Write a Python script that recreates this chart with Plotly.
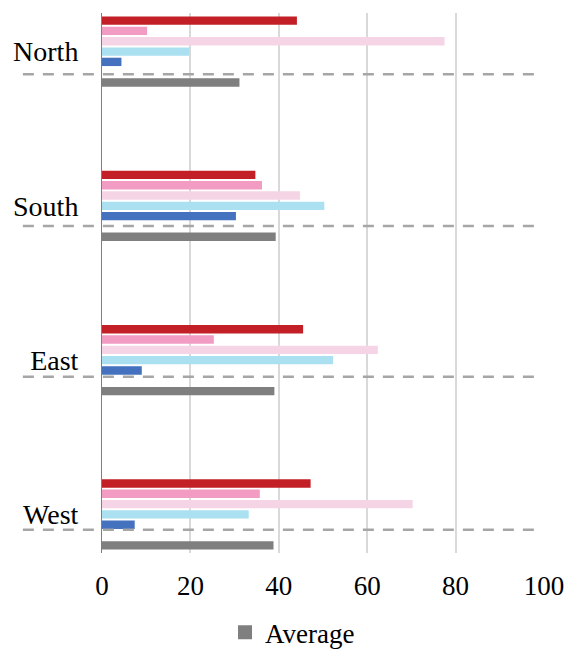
import plotly.graph_objects as go

# Regions shown on the category axis (top to bottom)
regions = ["North", "South", "East", "West"]

# Five series per region plus the regional average
series_names = ["Series 1", "Series 2", "Series 3", "Series 4", "Series 5"]
series_values = [
    [44.1, 34.7, 45.5, 47.2],
    [10.2, 36.2, 25.3, 35.7],
    [77.5, 44.8, 62.4, 70.3],
    [19.7, 50.3, 52.3, 33.2],
    [4.4, 30.3, 9.0, 7.4],
]
series_colors = ["#C21F27", "#F29BC3", "#F5D5E5", "#ABE0F0", "#4472BE"]

average_values = [31.1, 39.3, 39.0, 38.8]
average_color = "#7F7F7F"

# Separator line positions on the category axis (one below each region's series)
separator_pos = [0.147, 1.130, 2.108, 3.099]

x_ticks = [0, 20, 40, 60, 80, 100]

FONT = "Liberation Serif"

fig = go.Figure()

for name, vals, col in zip(series_names, series_values, series_colors):
    fig.add_trace(go.Bar(
        y=regions, x=vals, name=name, orientation="h",
        marker=dict(color=col, line=dict(width=0)),
        showlegend=False,
    ))

# empty slot between the series and the average bar
fig.add_trace(go.Bar(
    y=regions, x=[0] * len(regions), orientation="h",
    marker=dict(color="rgba(0,0,0,0)", line=dict(width=0)),
    showlegend=False, hoverinfo="skip",
))

fig.add_trace(go.Bar(
    y=regions, x=average_values, name="Average", orientation="h",
    marker=dict(color=average_color, line=dict(width=0)),
    showlegend=False, legendgroup="avg",
))

# legend key for the average series (larger square swatch)
fig.add_trace(go.Scatter(
    x=[None], y=[None], mode="markers", name="Average",
    marker=dict(symbol="square", size=14, color=average_color),
    legendgroup="avg", showlegend=True, hoverinfo="skip",
))

for pos in separator_pos:
    fig.add_shape(
        type="line", xref="paper", yref="y",
        x0=-0.179, x1=0.995, y0=pos, y1=pos,
        line=dict(color="#A6A6A6", width=2.5, dash="11px,9px"),
        layer="above",
    )

fig.update_layout(
    width=568, height=653,
    margin=dict(l=102, r=24, t=13, b=100, autoexpand=False),
    paper_bgcolor="white", plot_bgcolor="white",
    barmode="group", bargap=0.532, bargroupgap=0.19,
    font=dict(family=FONT, color="black"),
    legend=dict(
        orientation="h", x=0.515, xanchor="center", xref="container",
        y=0.031, yanchor="middle", yref="container",
        font=dict(family=FONT, size=27, color="black"),
        itemwidth=30,
    ),
    xaxis=dict(
        range=[0, 100], tickvals=x_ticks, automargin=False,
        showgrid=True, gridcolor="#D9D9D9", gridwidth=1.5,
        zeroline=False, showline=False,
        ticks="outside", ticklen=9, tickcolor="rgba(0,0,0,0)",
        tickfont=dict(family=FONT, size=27, color="black"),
    ),
    yaxis=dict(
        type="category", categoryorder="array", categoryarray=regions,
        range=[3.25, -0.25], automargin=False,
        showgrid=False, zeroline=False,
        showline=True, linecolor="#7F7F7F", linewidth=1,
        ticks="outside", ticklen=17, tickcolor="rgba(0,0,0,0)",
        tickfont=dict(family=FONT, size=28, color="black"),
    ),
)

fig.write_html("out.html")
